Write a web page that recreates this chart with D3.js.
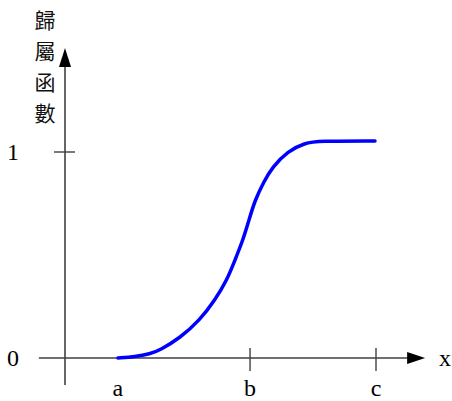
<!DOCTYPE html>
<html>
<head>
<meta charset="utf-8">
<script src="https://cdn.jsdelivr.net/npm/d3@7"></script>
<style>
  html, body { margin: 0; padding: 0; background: #fff; }
  svg { display: block; }
</style>
</head>
<body>
<script>
// ---- data ----
const yLabelChars = ["歸", "屬", "函", "數"];
const xTickLabels = ["a", "b", "c"];
const xTickValues = [1.7, 5.95, 10];
const xTickMarks = [false, true, true];
const yTickLabels = ["0", "1"];
const yTickValues = [0, 1];
const yTickMarks = [false, true];
const curveX = [1.704, 2.251, 2.733, 3.055, 3.698, 4.341, 4.823, 5.209, 5.466, 5.723, 5.916, 6.109, 6.399, 6.656, 7.170, 7.717, 8.135, 9.968];
const curveY = [0, 0.0058, 0.0194, 0.0388, 0.0971, 0.1845, 0.2816, 0.3786, 0.4757, 0.5728, 0.6699, 0.7670, 0.8568, 0.9248, 1.0049, 1.0437, 1.0534, 1.0534];
const axisXExtent = [-0.84, 11.58];
const axisYExtent = [-0.131, 1.505];

const W = 452, H = 401;
const x = d3.scaleLinear().domain([0, 10]).range([65, 376]);
const y = d3.scaleLinear().domain([0, 1]).range([358, 152]);

const svg = d3.select("body").append("svg").attr("width", W).attr("height", H);
const axisColor = "#404040";
const serif = "'Liberation Serif', 'Times New Roman', serif";

// x axis line
svg.append("line")
  .attr("x1", x(axisXExtent[0])).attr("x2", x(axisXExtent[1]) - 14)
  .attr("y1", y(0)).attr("y2", y(0))
  .attr("stroke", axisColor).attr("stroke-width", 1.6);
// x arrow head
const xt = x(axisXExtent[1]);
svg.append("path")
  .attr("d", `M${xt},${y(0)} L${xt - 18},${y(0) - 6} L${xt - 18},${y(0) + 6} Z`)
  .attr("fill", "#000");

// y axis line
svg.append("line")
  .attr("x1", x(0)).attr("x2", x(0))
  .attr("y1", y(axisYExtent[0])).attr("y2", y(axisYExtent[1]) + 14)
  .attr("stroke", axisColor).attr("stroke-width", 1.6);
const yt = y(axisYExtent[1]);
svg.append("path")
  .attr("d", `M${x(0)},${yt} L${x(0) - 6},${yt + 19} L${x(0) + 6},${yt + 19} Z`)
  .attr("fill", "#000");

// x ticks
xTickValues.forEach((v, i) => {
  if (xTickMarks[i]) {
    svg.append("line")
      .attr("x1", x(v)).attr("x2", x(v))
      .attr("y1", y(0) - 10).attr("y2", y(0) + 13)
      .attr("stroke", axisColor).attr("stroke-width", 1.4);
  }
  svg.append("text")
    .attr("x", x(v)).attr("y", y(0) + 38)
    .attr("text-anchor", "middle")
    .attr("font-family", serif).attr("font-size", 24)
    .attr("fill", "#000")
    .text(xTickLabels[i]);
});
// x axis label
svg.append("text")
  .attr("x", 445).attr("y", y(0) + 8)
  .attr("text-anchor", "middle")
  .attr("font-family", serif).attr("font-size", 24)
  .attr("fill", "#000")
  .text("x");

// y ticks
yTickValues.forEach((v, i) => {
  if (yTickMarks[i]) {
    svg.append("line")
      .attr("x1", x(0) - 11).attr("x2", x(0) + 10)
      .attr("y1", y(v)).attr("y2", y(v))
      .attr("stroke", axisColor).attr("stroke-width", 1.4);
  }
  svg.append("text")
    .attr("x", 13).attr("y", y(v) + 8)
    .attr("text-anchor", "middle")
    .attr("font-family", serif).attr("font-size", 24)
    .attr("fill", "#000")
    .text(yTickLabels[i]);
});

// y label (vertical stacked characters)
yLabelChars.forEach((c, i) => {
  svg.append("text")
    .attr("x", 45).attr("y", 20 + i * 31)
    .attr("dy", "0.36em")
    .attr("text-anchor", "middle")
    .attr("font-family", "'Noto Sans CJK TC', 'Noto Sans CJK SC', sans-serif")
    .attr("font-size", 21)
    .attr("fill", "#111")
    .text(c);
});

// membership curve
const pts = curveX.map((v, i) => [v, curveY[i]]);
const line = d3.line()
  .x(d => x(d[0])).y(d => y(d[1]))
  .curve(d3.curveBasis);
svg.append("path")
  .datum(pts)
  .attr("d", line)
  .attr("fill", "none")
  .attr("stroke", "#0000ff")
  .attr("stroke-width", 3.5)
  .attr("stroke-linecap", "round");
</script>
</body>
</html>
